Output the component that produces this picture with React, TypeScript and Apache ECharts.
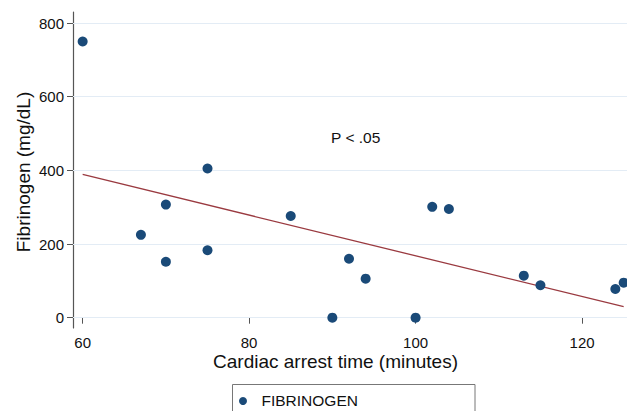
import React, { useEffect, useRef } from "react";
import * as echarts from "echarts";

const arrestTime = [60, 75, 67, 70, 70, 75, 85, 90, 92, 94, 100, 102, 104, 113, 115, 124, 125];
const fibrinogen = [750, 405, 225, 307, 152, 183, 276, 0, 160, 106, 0, 301, 295, 114, 88, 78, 95];
const fitX = [60, 125];
const fitY = [389, 30];
const xTicks = [60, 80, 100, 120];
const yTicks = [0, 200, 400, 600, 800];

const FONT = "Liberation Sans, Arial, Helvetica, sans-serif";

export default function App() {
  const ref = useRef<HTMLDivElement>(null);
  useEffect(() => {
    document.body.style.margin = "0";
    const chart = echarts.init(ref.current!, null, { renderer: "svg" });
    const axisLine = { show: true, lineStyle: { color: "#555555", width: 1.2 } };
    chart.setOption({
      animation: false,
      backgroundColor: "#ffffff",
      textStyle: { fontFamily: FONT },
      grid: { left: 73, right: 0, top: 12, bottom: 83, containLabel: false },
      xAxis: {
        type: "value",
        min: 58.84,
        max: 125.4,
        axisLine,
        axisTick: { show: true, customValues: xTicks, length: 6, lineStyle: { color: "#555555" } },
        axisLabel: { customValues: xTicks, color: "#111", fontSize: 15, margin: 7, fontFamily: FONT },
        splitLine: { show: false },
      },
      yAxis: {
        type: "value",
        min: -28,
        max: 830,
        axisLine,
        axisTick: { show: true, customValues: yTicks, length: 6, lineStyle: { color: "#555555" } },
        axisLabel: { customValues: yTicks, color: "#111", fontSize: 15, margin: 9, fontFamily: FONT },
        splitLine: { show: false },
      },
      series: [
        {
          type: "line",
          data: [],
          silent: true,
          z: 0,
          markLine: {
            silent: true,
            symbol: "none",
            label: { show: false },
            lineStyle: { color: "#e3ecf5", width: 1, type: "solid" },
            data: yTicks.map((v) => ({ yAxis: v })),
          },
        },
        {
          type: "line",
          data: fitX.map((x, i) => [x, fitY[i]]),
          showSymbol: false,
          symbol: "none",
          lineStyle: { color: "#9a3a40", width: 1.3 },
          z: 5,
        },
        {
          type: "scatter",
          name: "FIBRINOGEN",
          clip: false,
          data: arrestTime.map((x, i) => [x, fibrinogen[i]]),
          symbolSize: 10,
          itemStyle: { color: "#1a4a78", opacity: 1 },
          z: 6,
        },
      ],
      graphic: [
        {
          type: "text",
          x: 23,
          y: 172,
          rotation: Math.PI / 2,
          style: {
            text: "Fibrinogen (mg/dL)",
            fontSize: 19,
            fontFamily: FONT,
            fill: "#111",
            align: "center",
            verticalAlign: "middle",
          },
        },
        {
          type: "text",
          x: 335.5,
          y: 361,
          style: {
            text: "Cardiac arrest time (minutes)",
            fontSize: 19,
            fontFamily: FONT,
            fill: "#111",
            align: "center",
            verticalAlign: "middle",
          },
        },
        {
          type: "text",
          x: 355.7,
          y: 137.5,
          style: {
            text: "P < .05",
            fontSize: 15.5,
            fontFamily: FONT,
            fill: "#111",
            align: "center",
            verticalAlign: "middle",
          },
        },
        {
          type: "rect",
          shape: { x: 232.5, y: 384.5, width: 242.5, height: 40 },
          style: { fill: "#ffffff", stroke: "#777777", lineWidth: 1 },
        },
        {
          type: "circle",
          shape: { cx: 243, cy: 401, r: 4 },
          style: { fill: "#1a4a78" },
        },
        {
          type: "text",
          x: 261.5,
          y: 400,
          style: {
            text: "FIBRINOGEN",
            fontSize: 15.5,
            fontFamily: FONT,
            fill: "#111",
            align: "left",
            verticalAlign: "middle",
          },
        },
      ],
    });
    return () => chart.dispose();
  }, []);
  return <div ref={ref} style={{ width: 627, height: 411 }} />;
}
